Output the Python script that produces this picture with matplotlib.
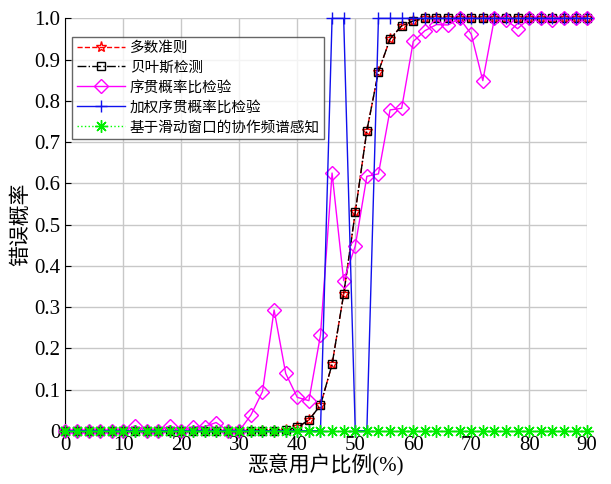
import numpy as np
import matplotlib
matplotlib.use('Agg')
import matplotlib.pyplot as plt

plt.rcParams['font.family'] = ['Liberation Serif', 'Noto Sans CJK SC']
plt.rcParams['axes.unicode_minus'] = False

# 恶意用户比例(%)
x = np.arange(0, 91, 2)

# 多数准则
majority = [0]*19 + [0.002, 0.008, 0.026, 0.062, 0.161, 0.331, 0.530, 0.728, 0.871,
                     0.950, 0.982, 0.994] + [1.0]*15
# 贝叶斯检测
bayes = list(majority)
# 序贯概率比检验
sprt = [0, 0, 0, 0, 0, 0, 0.012, 0, 0, 0.012, 0, 0.01, 0.01, 0.02, 0, 0,
        0.038, 0.095, 0.293, 0.139, 0.081, 0.073, 0.232, 0.625, 0.364, 0.448,
        0.617, 0.623, 0.778, 0.782, 0.944, 0.970, 0.985, 0.984, 1.0, 0.962,
        0.849, 1.0, 0.996, 0.975, 1.0, 1.0, 0.995, 1.0, 1.0, 1.0]
# 加权序贯概率比检验
wsprt = [0]*23 + [1, 1, 0, 0] + [1]*19
# 基于滑动窗口的协作频谱感知
sliding = [0]*46

fig = plt.figure(figsize=(6.11, 4.84), dpi=100)
ax = fig.add_axes([0.107, 0.110, 0.854, 0.852])

ax.plot(x, majority, color='red', ls='--', lw=1, marker='*', ms=8,
        mfc='none', mec='red', label='多数准则', clip_on=False, zorder=3)
ax.plot(x, bayes, color='black', ls='-.', lw=1, marker='s', ms=6,
        mfc='none', mec='black', label='贝叶斯检测', clip_on=False, zorder=3)
ax.plot(x, sprt, color='magenta', ls='-', lw=1, marker='D', ms=7,
        mfc='none', mec='magenta', label='序贯概率比检验', clip_on=False, zorder=3)
ax.plot(x, wsprt, color='#1010ee', ls='-', lw=1, marker='+', ms=9,
        mec='#1010ee', label='加权序贯概率比检验', clip_on=False, zorder=3)
ax.plot(x, sliding, color='#00ff00', ls=':', lw=1, marker=(8, 2, 0), ms=9,
        mec='#00ee00', mew=1, label='基于滑动窗口的协作频谱感知', clip_on=False, zorder=4)

ax.set_xlim(0, 90)
ax.set_ylim(0, 1)
ax.set_xticks(np.arange(0, 91, 10))
ax.set_yticks(np.arange(0, 1.01, 0.1))
ax.set_yticklabels(['0'] + ['%.1f' % v for v in np.arange(0.1, 1.01, 0.1)])
ax.tick_params(labelsize=15, direction='in', length=4)
ax.grid(True, color='#c8c8c8', lw=1)
ax.set_axisbelow(True)
ax.spines['top'].set_visible(False)
ax.spines['right'].set_visible(False)

ax.set_xlabel('恶意用户比例(%)', fontsize=15, labelpad=0)
ax.set_ylabel('错误概率', fontsize=15, labelpad=2)

leg = ax.legend(loc='upper left', bbox_to_anchor=(0.013, 0.955), fontsize=10.5,
                frameon=True, fancybox=False, edgecolor='#404040',
                handlelength=3.3, borderpad=0.3, labelspacing=0.42,
                handletextpad=0.35, borderaxespad=0)
leg.get_frame().set_linewidth(1)

fig.savefig('out.png', dpi=100)
